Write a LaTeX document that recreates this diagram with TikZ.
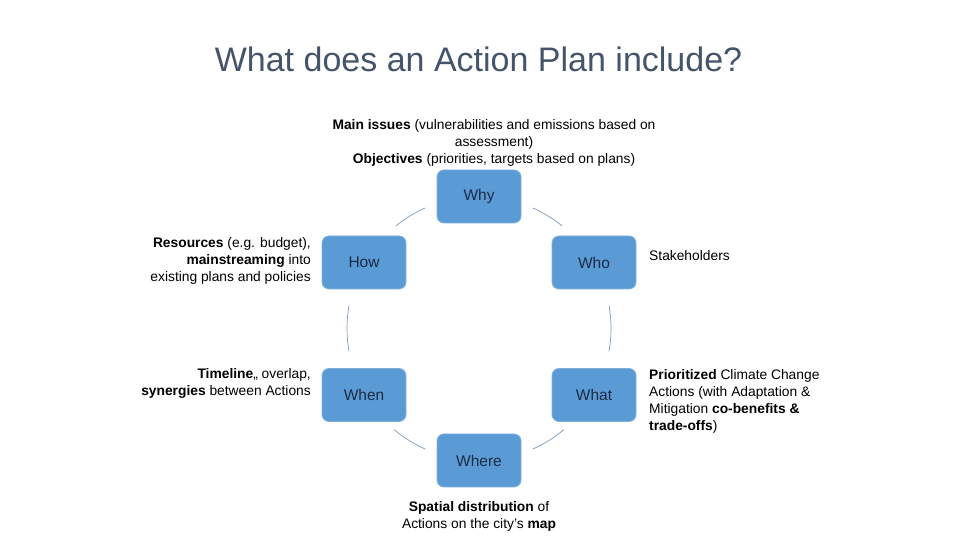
\documentclass[tikz,border=0pt]{standalone}
\usepackage{fontspec}
\setmainfont{Liberation Sans}
\definecolor{boxblue}{HTML}{5B9BD5}
\definecolor{boxedge}{HTML}{7FB0DE}
\definecolor{boxtext}{HTML}{1C2B45}
\definecolor{titlecol}{HTML}{44546A}
\definecolor{arccol}{HTML}{7F9BB5}
\begin{document}
\begin{tikzpicture}[x=1pt,y=1pt,
  qbox/.style={rectangle, rounded corners=7pt, fill=boxblue, draw=boxedge, line width=0.8pt,
    minimum width=84pt, minimum height=53pt, inner sep=0pt, text=boxtext,
    font=\fontsize{15.5}{18}\selectfont},
  note/.style={inner sep=0pt, text=black, font=\fontsize{13.8}{17}\selectfont},
  ring/.style={draw=arccol, line width=0.7pt}]
\useasboundingbox (0,0) rectangle (960,540);
\fill[white] (0,0) rectangle (960,540);
\node[text=titlecol, font=\fontsize{34}{40}\selectfont, inner sep=0pt] (title) at (478.5,481) {What does an Action Plan include?};
\coordinate (c) at (479,211.5);
\node[qbox] (why) at (479,343.5) {Why};
\node[qbox] (how) at (364,277.5) {How};
\node[qbox] (who) at (594,277.5) {Who};
\node[qbox] (when) at (364,145) {When};
\node[qbox] (what) at (594,145) {What};
\node[qbox] (where) at (479,79.5) {Where};
\draw[ring] (c) ++(114:132) arc[start angle=114, end angle=129, radius=132];
\draw[ring] (c) ++(51:132) arc[start angle=51, end angle=66, radius=132];
\draw[ring] (c) ++(170:132) arc[start angle=170, end angle=190, radius=132];
\draw[ring] (c) ++(-10:132) arc[start angle=-10, end angle=10, radius=132];
\draw[ring] (c) ++(230:132) arc[start angle=230, end angle=246, radius=132];
\draw[ring] (c) ++(294:132) arc[start angle=294, end angle=310, radius=132];
\node[note, align=center] (why-t) at (494,397) {\textbf{Main issues} (vulnerabilities and emissions based on\\assessment)\\\textbf{Objectives} (priorities, targets based on plans)};
\node[note, align=right, anchor=east] (how-t) at (311,279.5) {\textbf{Resources} (e.g. budget),\\\textbf{mainstreaming} into\\existing plans and policies};
\node[note, align=right, anchor=east] (when-t) at (311,156.5) {\textbf{Timeline},, overlap,\\\textbf{synergies} between Actions};
\node[note, align=left, anchor=west] (who-t) at (649,284) {Stakeholders};
\node[note, align=left, anchor=west] (what-t) at (649,139) {\textbf{Prioritized} Climate Change\\Actions (with Adaptation \&\\Mitigation \textbf{co-benefits \&}\\\textbf{trade-offs})};
\node[note, align=center] (where-t) at (479,23.5) {\textbf{Spatial distribution} of\\Actions on the city's \textbf{map}};
\end{tikzpicture}
\end{document}
